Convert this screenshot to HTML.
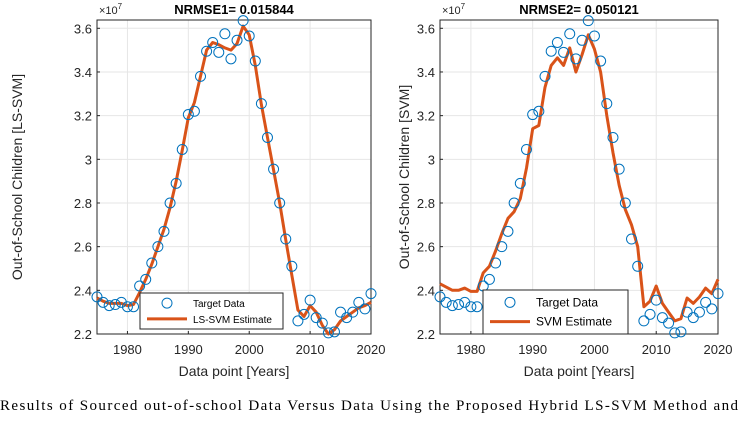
<!DOCTYPE html>
<html><head><meta charset="utf-8"><style>
body{margin:0;background:#fff;width:740px;height:416px;overflow:hidden}
svg text{font-family:"Liberation Sans",Arial,sans-serif}
</style></head><body>
<svg id="chart" width="740" height="416" xmlns="http://www.w3.org/2000/svg"></svg>
<script>
const years=[];for(let y=1975;y<=2020;y++)years.push(y);
const target=[2.37,2.345,2.33,2.335,2.345,2.325,2.325,2.42,2.45,2.525,2.6,2.67,2.8,2.89,3.045,3.205,3.22,3.38,3.495,3.535,3.49,3.575,3.46,3.545,3.635,3.565,3.45,3.255,3.1,2.955,2.8,2.635,2.51,2.26,2.29,2.355,2.275,2.25,2.205,2.21,2.3,2.275,2.3,2.345,2.315,2.385];
const lssvm=[2.365,2.35,2.34,2.34,2.34,2.33,2.335,2.39,2.45,2.52,2.6,2.68,2.78,2.9,3.04,3.19,3.26,3.38,3.5,3.535,3.525,3.51,3.5,3.53,3.61,3.57,3.43,3.25,3.1,2.95,2.8,2.63,2.47,2.31,2.28,2.33,2.3,2.24,2.2,2.22,2.26,2.28,2.3,2.32,2.33,2.345];
const svm=[2.43,2.415,2.4,2.4,2.41,2.395,2.395,2.48,2.51,2.58,2.66,2.73,2.76,2.82,2.96,3.14,3.155,3.33,3.43,3.465,3.43,3.51,3.4,3.48,3.57,3.505,3.4,3.2,3.03,2.88,2.77,2.7,2.6,2.325,2.35,2.42,2.34,2.3,2.26,2.27,2.365,2.34,2.37,2.41,2.385,2.45];
const xTicks=[1980,1990,2000,2010,2020];
const yTicks=[2.2,2.4,2.6,2.8,3,3.2,3.4,3.6];
const yTickLabels=["2.2","2.4","2.6","2.8","3","3.2","3.4","3.6"];
const NS="http://www.w3.org/2000/svg";
const svg=document.getElementById('chart');
function mk(tag,attrs,parent){const e=document.createElementNS(NS,tag);for(const k in attrs)e.setAttribute(k,attrs[k]);(parent||svg).appendChild(e);return e;}
function panel(cfg){
  const g=mk('g',{});
  
  
  const L=cfg.l,R=cfg.r,T=20,B=334,ymin=2.2,ymax=3.638;
  const sx=v=>L+(v-1975)/(45)*(R-L);
  const sy=v=>B-(v-ymin)/(ymax-ymin)*(B-T);
  mk('rect',{x:L,y:T,width:R-L,height:B-T,fill:'#fff'},g);
  xTicks.forEach(t=>{const x=sx(t);
    mk('line',{x1:x,x2:x,y1:T,y2:B,stroke:'#e6e6e6','stroke-width':1},g);
    mk('line',{x1:x,x2:x,y1:B,y2:B-3,stroke:'#262626'},g);
    const tx=mk('text',{x:x,y:354,'text-anchor':'middle','font-size':13,fill:'#262626'},g);tx.textContent=t;
    
    });
  yTicks.forEach((t,i)=>{const y=sy(t);
    mk('line',{x1:L,x2:R,y1:y,y2:y,stroke:'#e6e6e6','stroke-width':1},g);
    mk('line',{x1:L,x2:L+3,y1:y,y2:y,stroke:'#262626'},g);
    const tx=mk('text',{x:L-5,y:y+5,'text-anchor':'end','font-size':13,fill:'#262626'},g);tx.textContent=yTickLabels[i];
    
    });
  mk('rect',{x:L,y:T,width:R-L,height:B-T,fill:'none',stroke:'#262626','stroke-width':1},g);
  const pts=cfg.est.map((v,i)=>sx(years[i]).toFixed(1)+','+sy(v).toFixed(1)).join(' ');
  const line=mk('polyline',{points:pts,fill:'none',stroke:'#d95319','stroke-width':3,'stroke-linejoin':'round'},g);
  
  
  target.forEach((v,i)=>{const c=mk('circle',{cx:sx(years[i]),cy:sy(v),r:5,fill:'none',stroke:'#0072bd','stroke-width':1},g);
    
    });
  const t=mk('text',{x:(L+R)/2,y:14,'text-anchor':'middle','font-size':13,'font-weight':'bold',fill:'#000'},g);t.textContent=cfg.title;
  
  
  const e=mk('text',{x:L+2,y:14,'font-size':11,fill:'#262626'},g);e.innerHTML='×10<tspan dy="-5" font-size="8">7</tspan>';
  
  
  const xt=mk('text',{x:(L+R)/2,y:376,'text-anchor':'middle','font-size':14,fill:'#262626'},g);xt.textContent='Data point [Years]';
  
  
  const yt=mk('text',{x:0,y:0,'text-anchor':'middle','font-size':14,fill:'#262626',transform:`translate(${cfg.yx},177) rotate(-90)`},g);yt.textContent=cfg.ytitle;
  
  
  const lg=mk('g',{},g);
  
  
  const [lx,ly,lw,lh]=cfg.leg;
  mk('rect',{x:lx,y:ly,width:lw,height:lh,fill:'#fff',stroke:'#262626','stroke-width':1},lg);
  mk('circle',{cx:lx+27,cy:ly+lh*0.28,r:5,fill:'none',stroke:'#0072bd'},lg);
  mk('line',{x1:lx+7,x2:lx+47,y1:ly+lh*0.72,y2:ly+lh*0.72,stroke:'#d95319','stroke-width':3},lg);
  const a=mk('text',{x:lx+53,y:ly+lh*0.28+4,'font-size':cfg.lf,fill:'#000'},lg);a.textContent='Target Data';
  const b=mk('text',{x:lx+53,y:ly+lh*0.72+4,'font-size':cfg.lf,fill:'#000'},lg);b.textContent=cfg.estName;
}
panel({name:'lssvm-panel',l:97,r:371,est:lssvm,title:'NRMSE1= 0.015844',ytitle:'Out-of-School  Children [LS-SVM]',yx:22,leg:[140,293,143,36],estName:'LS-SVM Estimate',lf:10});
panel({name:'svm-panel',l:440,r:718,est:svm,title:'NRMSE2= 0.050121',ytitle:'Out-of-School  Children [SVM]',yx:409,leg:[483,290,145,44],estName:'SVM Estimate',lf:12});
const cap=mk('text',{x:0,y:410,'font-size':15,fill:'#000',textLength:738,lengthAdjust:'spacing'});
cap.setAttribute('style','font-family:"Liberation Serif",serif');
cap.textContent='Results of Sourced out-of-school Data Versus Data Using the Proposed Hybrid LS-SVM Method and';


</script>
</body></html>
